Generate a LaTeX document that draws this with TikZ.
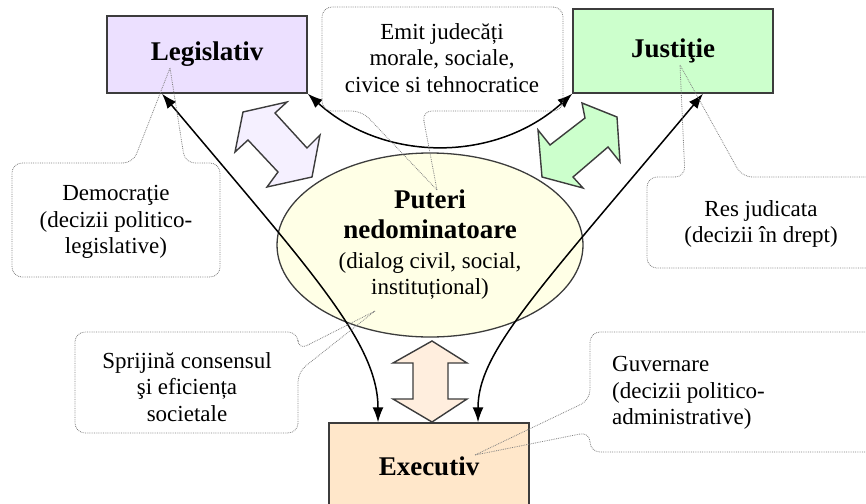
\documentclass[tikz,border=0pt]{standalone}
\usepackage{fontspec}
\setmainfont{Liberation Serif}
\usetikzlibrary{shapes.geometric,arrows.meta}

\definecolor{boxline}{RGB}{60,60,60}
\definecolor{lilac}{RGB}{236,224,255}
\definecolor{lilacarrow}{RGB}{245,240,255}
\definecolor{mint}{RGB}{204,255,204}
\definecolor{peach}{RGB}{255,231,202}
\definecolor{peacharrow}{RGB}{255,238,222}
\definecolor{cream}{RGB}{255,255,230}

\tikzset{
  power/.style={draw=boxline, line width=1.4pt, minimum width=200pt, inner sep=0pt,
    font=\fontsize{27}{30}\selectfont\bfseries},
  note/.style={font=\fontsize{23}{26.5}\selectfont, align=center, inner sep=0pt},
  bubble/.style={draw=gray, densely dotted, line width=0.8pt, rounded corners=10pt},
  block/.style={draw=boxline, line width=1.4pt, line join=miter},
  link/.style={<->, >={Latex[length=15pt,width=11pt]}, line width=1.5pt},
}

\begin{document}
\begin{tikzpicture}[x=1pt,y=1pt]
    \useasboundingbox (0,0) rectangle (866,-503);

    % the three powers
    \node[power, fill=lilac, minimum height=77pt] (leg) at (207,-54.5) {Legislativ};
    \node[power, fill=mint, minimum height=84pt] (jus) at (673,-51) {Justiţie};
    \node[power, fill=peach, minimum height=86pt] (exe) at (429,-466) {Executiv};

    \node[ellipse, draw=boxline, line width=1.3pt, fill=cream, minimum width=306pt,
      minimum height=184pt, inner sep=0pt, align=center,
      font=\fontsize{23}{26}\selectfont] (put) at (430,-245)
      {\textbf{\fontsize{27}{30}\selectfont Puteri}\\[4pt]
       \textbf{\fontsize{27}{30}\selectfont nedominatoare}\\[4pt]
       (dialog civil, social,\\ instituțional)};

    % block arrows
    \draw[block, fill=lilacarrow] (243,-112) -- (287,-102) -- (275,-113) -- (307,-148)
      -- (320,-135) -- (312,-177) -- (267,-187) -- (278,-172) -- (248,-140)
      -- (235,-152) -- cycle;
    \draw[block, fill=mint] (617,-117) -- (620,-162) -- (608,-147) -- (573,-177)
      -- (583,-188) -- (542,-177) -- (538,-130) -- (550,-145) -- (585,-118)
      -- (582,-103) -- cycle;
    \draw[block, fill=peacharrow] (432,-341) -- (467,-363) -- (448,-363) -- (448,-399)
      -- (467,-399) -- (432,-422) -- (393,-399) -- (413,-399) -- (413,-363)
      -- (393,-363) -- cycle;

    % links
    \draw[link] (leg.south east) to[bend right=42] (jus.south west);
    \draw[link] ([xshift=-45pt]leg.south) .. controls +(-50:230) and +(90:80) .. ([xshift=-51pt]exe.north);
    \draw[link] ([xshift=30pt]jus.south) .. controls +(-130:260) and +(90:70) .. ([xshift=49pt]exe.north);

    % callouts
    \node[note] (dem) at (116,-222) {Democraţie\\(decizii politico-\\legislative)};
    \draw[bubble] (170,-68) -- (185,-163) -- (220,-163) -- (220,-277) -- (12,-277)
      -- (12,-163) -- (133,-163) -- (170,-68);

    \node[note] (emit) at (442,-58) {Emit judecăți\\morale, sociale,\\civice si tehnocratice};
    \draw[bubble] (437,-190) -- (422,-111) -- (563,-111) -- (563,-7) -- (322,-7)
      -- (322,-111) -- (362,-111) -- (437,-190);

    \node[note] (res) at (761,-224) {Res judicata\\(decizii în drept)};
    \draw[bubble] (680,-65) -- (742,-177) -- (880,-177) -- (880,-268) -- (647,-268)
      -- (647,-177) -- (685,-177) -- (680,-65);

    \node[note] (spr) at (187,-387) {Sprijină consensul\\şi eficiența\\societale};
    \draw[bubble] (375,-311) -- (298,-372) -- (298,-433) -- (75,-433) -- (75,-332)
      -- (298,-332) -- (298,-350) -- (375,-311);

    \node[note, align=left, anchor=west] (guv) at (612,-393) {Guvernare\\(decizii politico-\\administrative)};
    \draw[bubble] (475,-455) -- (590,-432) -- (590,-452) -- (880,-452) -- (880,-332)
      -- (590,-332) -- (590,-400) -- (475,-455);
\end{tikzpicture}
\end{document}
